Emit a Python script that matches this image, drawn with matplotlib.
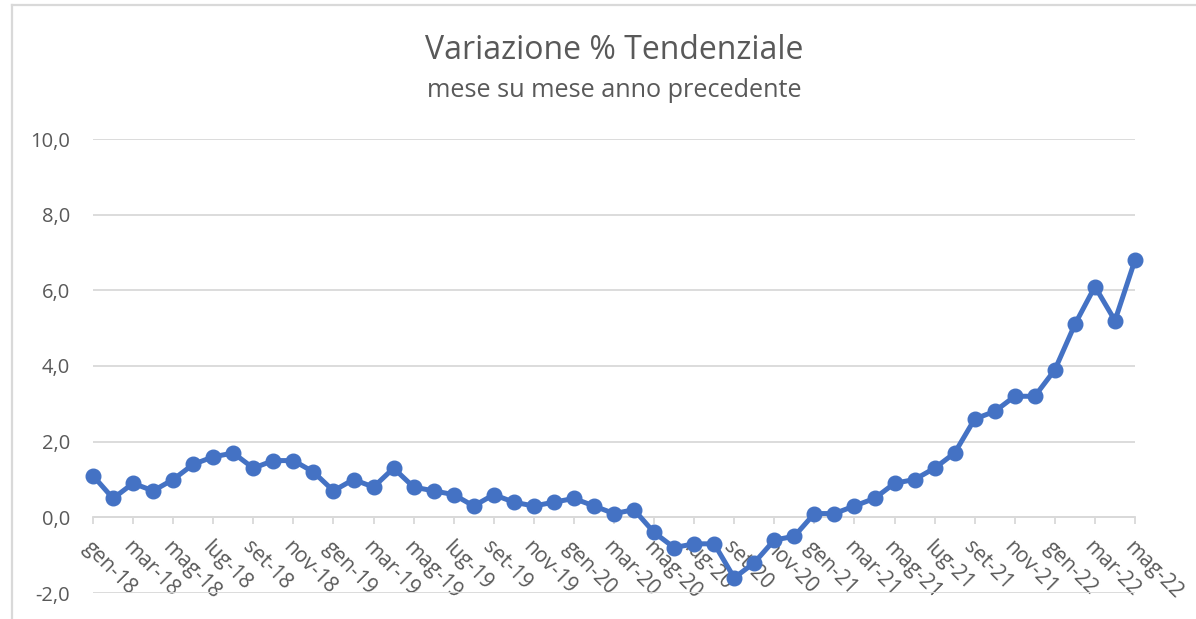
import matplotlib
matplotlib.use("Agg")
import matplotlib.pyplot as plt
from matplotlib.lines import Line2D

# ---- data ----
months = ["gen", "feb", "mar", "apr", "mag", "giu", "lug", "ago", "set", "ott", "nov", "dic"]
years = ["18", "19", "20", "21", "22"]
categories = [f"{m}-{y}" for y in years for m in months][:53]

values_2018 = [1.1, 0.5, 0.9, 0.7, 1.0, 1.4, 1.6, 1.7, 1.3, 1.5, 1.5, 1.2]
values_2019 = [0.7, 1.0, 0.8, 1.3, 0.8, 0.7, 0.6, 0.3, 0.6, 0.4, 0.3, 0.4]
values_2020 = [0.5, 0.3, 0.1, 0.2, -0.4, -0.8, -0.7, -0.7, -1.6, -1.2, -0.6, -0.5]
values_2021 = [0.1, 0.1, 0.3, 0.5, 0.9, 1.0, 1.3, 1.7, 2.6, 2.8, 3.2, 3.2]
values_2022 = [3.9, 5.1, 6.1, 5.2, 6.8]
values = values_2018 + values_2019 + values_2020 + values_2021 + values_2022

y_ticks = [-2, 0, 2, 4, 6, 8, 10]
y_ticklabels = ["-2,0", "0,0", "2,0", "4,0", "6,0", "8,0", "10,0"]

title = "Variazione % Tendenziale"
subtitle = "mese su mese anno precedente"

# ---- style ----
W, H = 1196, 619
DPI = 100
FONT = "Open Sans"
GRAY_TXT = "#595959"
GRID = "#D9D9D9"
BLUE = "#4472C4"

fig = plt.figure(figsize=(W / DPI, H / DPI), dpi=DPI)
fig.patch.set_facecolor("white")

x0, x1 = 93, 1135
ytop, ybot = 139, 593
ax = fig.add_axes([x0 / W, 1 - ybot / H, (x1 - x0) / W, (ybot - ytop) / H])
ax.set_facecolor("white")

xs = list(range(len(values)))
ax.plot(xs, values, color=BLUE, lw=3.6, marker="o", ms=10.5,
        mfc=BLUE, mec=BLUE, solid_joinstyle="round", clip_on=False, zorder=5)

ax.set_xlim(0, len(values) - 1)
ax.set_ylim(-2, 10)

# gridlines
ax.set_yticks(y_ticks)
ax.set_yticklabels(y_ticklabels, fontfamily=FONT, fontsize=14.5, color=GRAY_TXT)
ax.yaxis.grid(True, color=GRID, lw=1.3)
ax.set_axisbelow(True)
ax.tick_params(axis="y", length=0, pad=16.5)

for s in ["top", "right", "left"]:
    ax.spines[s].set_visible(False)
ax.spines["bottom"].set_position(("data", 0))
ax.spines["bottom"].set_color(GRID)
ax.spines["bottom"].set_linewidth(1.3)
ax.spines["bottom"].set_zorder(1)

tick_pos = xs[::2]
ax.set_xticks(tick_pos)
ax.set_xticklabels([categories[i] for i in tick_pos], rotation=-45,
                   ha="left", va="top", rotation_mode="anchor",
                   fontfamily=FONT, fontsize=15, color=GRAY_TXT)
ax.tick_params(axis="x", direction="out", length=5, width=1.3, color=GRID, pad=9)

# titles
t1 = fig.text(614 / W, 1 - 59 / H, title, ha="center", va="baseline",
              fontfamily=FONT, fontsize=22, color=GRAY_TXT)
t2 = fig.text(614 / W, 1 - 97 / H, subtitle, ha="center", va="baseline",
              fontfamily=FONT, fontsize=15, color=GRAY_TXT)

fig.canvas.draw()
r = fig.canvas.get_renderer()
for t, target in [(t1, 378), (t2, 376)]:
    w = t.get_window_extent(r).width
    t.set_fontsize(t.get_fontsize() * target / w)

# chart frame (left & top edges)
fig.add_artist(Line2D([11.5 / W, 11.5 / W], [0, 1 - 4.5 / H], transform=fig.transFigure,
                      color=GRID, lw=1.6))
fig.add_artist(Line2D([11.5 / W, 1], [1 - 4.5 / H, 1 - 4.5 / H], transform=fig.transFigure,
                      color=GRID, lw=1.6))

fig.savefig("out.png", dpi=DPI, facecolor="white")
